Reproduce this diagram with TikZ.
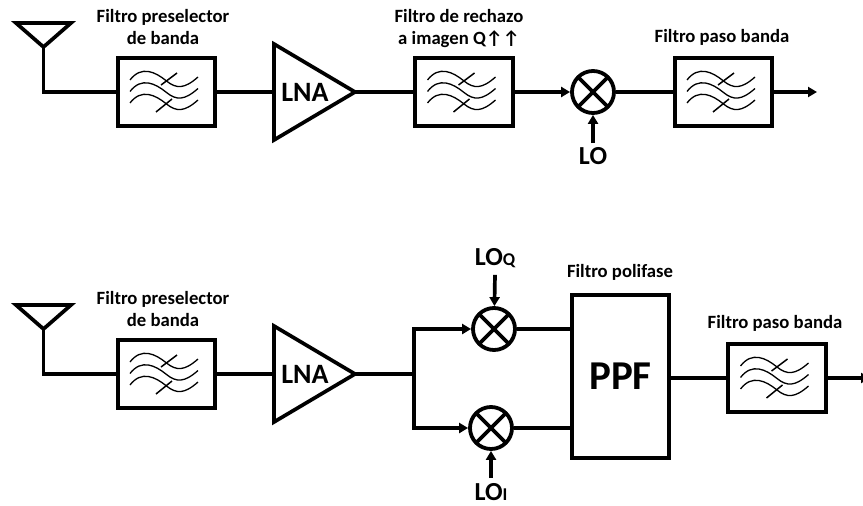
\documentclass[tikz,border=0pt]{standalone}
\usepackage{fontspec}
\setmainfont{Carlito}
\usetikzlibrary{arrows.meta}
\tikzset{
	wire/.style={line width=3.7pt,line join=miter},
	flecha/.style={wire,-{Triangle[length=9pt,width=10pt]}},
	filtro/.style={draw,line width=3.8pt,minimum width=97.5pt,minimum height=67.5pt,inner sep=0pt},
	mezclador/.style={circle,draw,line width=3.8pt,minimum size=42pt,inner sep=0pt,
		path picture={\draw[line width=3.8pt] (path picture bounding box.north west)--(path picture bounding box.south east)
			(path picture bounding box.north east)--(path picture bounding box.south west);}},
	etiqueta/.style={font=\fontsize{18.7}{22.5}\selectfont\bfseries,align=center,inner sep=0pt},
	etiquetaLO/.style={font=\fontsize{26}{28}\selectfont\bfseries,inner sep=0pt},
	ondas/.pic={
		\foreach \o in {0,11.5,23}{
			\draw[line width=1.3pt] (-36.5,\o-12) .. controls (-25,\o-27) and (-11,\o-20) .. (0,\o-11) .. controls (10,\o-3) and (18,\o-3) .. (31.5,\o-15);
		}
		\draw[line width=1.5pt] (-5.5,-7)--(10.5,-19);
		\draw[line width=1.5pt] (-10.5,20)--(5.5,7);
	},
	antena/.pic={
		\draw[wire] (-27.5,-24)--(27.5,-24)--(0,0)--cycle;
		\coordinate (-pie) at (0,0);
	},
	lna/.pic={
		\draw[wire] (0,-48)--(81,0)--(0,48)--cycle;
		\node[font=\fontsize{28}{30}\selectfont\bfseries,inner sep=0pt] at (31,0) {LNA};
		\coordinate (-ent) at (0,0);
		\coordinate (-sal) at (81,0);
	}
}
\begin{document}
\begin{tikzpicture}[x=1pt,y=-1pt]
	\clip (0,0) rectangle (863,506);
	% receptor superior
	\pic (antA) at (43.5,47) {antena};
	\node[filtro] (filA) at (166.5,92) {};
	\pic at (166.5,92) {ondas};
	\pic (lnaA) at (274,92) {lna};
	\node[filtro] (filB) at (464,92) {};
	\pic at (464,92) {ondas};
	\node[mezclador] (mezA) at (593,92) {};
	\node[filtro] (filC) at (723.5,92) {};
	\pic at (723.5,92) {ondas};
	\coordinate (salA) at (817,92);
	\node[etiquetaLO] (loA) at (593,156) {LO};
	\node[etiqueta] (txtA) at (163,27) {Filtro preselector\\de banda};
	\node[etiqueta] (txtB) at (459,28.5) {Filtro de rechazo\\a imagen Q↑↑};
	\node[etiqueta] (txtC) at (722,37) {Filtro paso banda};
	\draw[wire] (antA-pie) |- (filA);
	\draw[wire] (filA) -- (lnaA-ent);
	\draw[wire] (lnaA-sal) -- (filB);
	\draw[flecha] (filB) -- (mezA);
	\draw[wire] (mezA) -- (filC);
	\draw[flecha] (filC) -- (salA);
	\draw[flecha] (loA.north) ++(0,-4) -- (mezA);
	% receptor inferior
	\pic (antB) at (43.5,329) {antena};
	\node[filtro] (filD) at (166.5,374) {};
	\pic at (166.5,374) {ondas};
	\pic (lnaB) at (274,374) {lna};
	\coordinate (rama) at (414,374);
	\node[mezclador] (mezQ) at (494,329) {};
	\node[mezclador] (mezI) at (491,428) {};
	\node[draw,line width=3.8pt,minimum width=96.5pt,minimum height=163pt,inner sep=0pt,font=\fontsize{41}{44}\selectfont\bfseries] (ppf) at (620.5,376.5) {PPF};
	\node[filtro] (filE) at (777,378) {};
	\pic at (777,378) {ondas};
	\coordinate (salB) at (870,378);
	\node[etiquetaLO] (loQ) at (495,258) {LO{\fontsize{18}{20}\selectfont Q}};
	\node[etiquetaLO] (loI) at (491,492) {LO{\fontsize{18}{20}\selectfont I}};
	\node[etiqueta] (txtD) at (163,309) {Filtro preselector\\de banda};
	\node[etiqueta] (txtE) at (620,272) {Filtro polifase};
	\node[etiqueta] (txtF) at (775,323) {Filtro paso banda};
	\draw[wire] (antB-pie) |- (filD);
	\draw[wire] (filD) -- (lnaB-ent);
	\draw[wire] (lnaB-sal) -- (rama);
	\draw[flecha] (rama) |- (mezQ);
	\draw[flecha] (rama) |- (mezI);
	\draw[wire] (mezQ) -- (mezQ-|ppf.west);
	\draw[wire] (mezI) -- (mezI-|ppf.west);
	\draw[wire] (ppf.east|-filE) -- (filE);
	\draw[flecha] (filE) -- (salB);
	\draw[flecha] (loQ.south) ++(0,7) -- (mezQ);
	\draw[flecha] (loI.north) ++(0,-5) -- (mezI);
\end{tikzpicture}
\end{document}
